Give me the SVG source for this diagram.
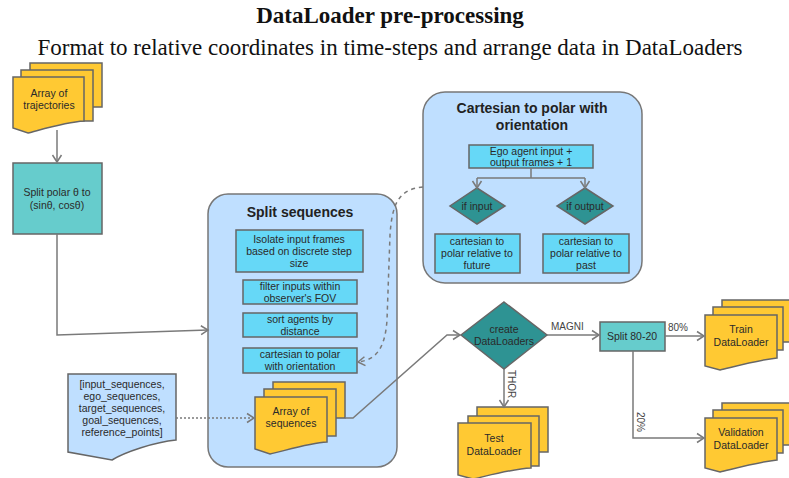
<svg xmlns="http://www.w3.org/2000/svg" width="789" height="478" viewBox="0 0 789 478">
<defs>
<marker id="arr" markerUnits="userSpaceOnUse" markerWidth="12" markerHeight="12" viewBox="0 0 12 12" refX="10" refY="6" orient="auto">
<path d="M3,1.5 L10,6 L3,10.5" fill="none" stroke="#7a7a7a" stroke-width="1.5"/>
</marker>
</defs>
<style>
.t{font-family:"Liberation Sans",Arial,sans-serif;font-size:10.5px;fill:#2a2a2a;text-anchor:middle}
.lbl{font-family:"Liberation Sans",Arial,sans-serif;font-size:10px;fill:#444}
.h{font-family:"Liberation Sans",Arial,sans-serif;font-size:14px;font-weight:bold;fill:#222;text-anchor:middle}
.doc{fill:#ffc933;stroke:#666;stroke-width:1.5}
.teal{fill:#66cccc;stroke:#666;stroke-width:1.5}
.cyan{fill:#66d8f7;stroke:#666;stroke-width:1.5}
.cont{fill:#bfdfff;stroke:#777;stroke-width:1.5}
.dia{fill:#2e9393;stroke:#666;stroke-width:1.5}
.c{fill:none;stroke:#7a7a7a;stroke-width:1.5}
</style>
<rect width="789" height="478" fill="#fff"/>
<text x="390" y="23" font-family="Liberation Serif,serif" font-size="23" font-weight="bold" text-anchor="middle" fill="#111">DataLoader pre-processing</text>
<text x="390" y="55" font-family="Liberation Serif,serif" font-size="23" text-anchor="middle" fill="#111">Format to relative coordinates in time-steps and arrange data in DataLoaders</text>

<g id="array-of-trajectories">
<rect class="doc" x="30" y="63" width="72" height="44"/>
<rect class="doc" x="21" y="70" width="72" height="51"/>
<path class="doc" d="M13,77 H84 V121 C66,122 40,130 28,133 L13,128 Z"/>
<text class="t" x="49" y="97">Array of</text>
<text class="t" x="49" y="109">trajectories</text>
</g>

<g id="split-polar">
<rect class="teal" x="13" y="163" width="89" height="71"/>
<text class="t" x="57" y="196">Split polar θ to</text>
<text class="t" x="57" y="209">(sinθ, cosθ)</text>
</g>

<g id="split-sequences">
<rect class="cont" x="208" y="194" width="189" height="273" rx="20"/>
<text class="h" x="300" y="217">Split sequences</text>
</g>
<g id="isolate">
<rect class="cyan" x="236" y="230" width="127" height="42"/>
<text class="t" x="299" y="243">Isolate input frames</text>
<text class="t" x="299" y="255">based on discrete step</text>
<text class="t" x="299" y="267">size</text>
</g>
<g id="filter">
<rect class="cyan" x="243" y="280" width="114" height="24"/>
<text class="t" x="300" y="290">filter inputs within</text>
<text class="t" x="300" y="302">observer's FOV</text>
</g>
<g id="sort">
<rect class="cyan" x="243" y="313" width="114" height="24"/>
<text class="t" x="300" y="323">sort agents by</text>
<text class="t" x="300" y="335">distance</text>
</g>
<g id="cart-polar">
<rect class="cyan" x="243" y="348" width="114" height="25"/>
<text class="t" x="300" y="358">cartesian to polar</text>
<text class="t" x="300" y="370">with orientation</text>
</g>
<g id="array-of-sequences">
<rect class="doc" x="273" y="382" width="72" height="36"/>
<rect class="doc" x="264" y="389" width="72" height="47"/>
<path class="doc" d="M255,397 H327 V442 C309,443 284,451 270,454 L255,449 Z"/>
<text class="t" x="291" y="415">Array of</text>
<text class="t" x="291" y="427">sequences</text>
</g>

<g id="cartesian-container">
<rect class="cont" x="423" y="92" width="219" height="191" rx="22"/>
<text class="h" x="532" y="113">Cartesian to polar with</text>
<text class="h" x="532" y="130">orientation</text>
</g>
<g id="ego">
<rect class="cyan" x="469" y="145" width="124" height="23"/>
<text class="t" x="531" y="155">Ego agent input +</text>
<text class="t" x="531" y="166">output frames + 1</text>
</g>
<g id="if-input">
<path class="dia" d="M477,188 L505,206 L477,224 L450,206 Z"/>
<text class="t" x="477" y="210">if input</text>
</g>
<g id="if-output">
<path class="dia" d="M585,188 L613,206 L585,224 L557,206 Z"/>
<text class="t" x="585" y="210">if output</text>
</g>
<g id="rel-future">
<rect class="cyan" x="435" y="234" width="85" height="39"/>
<text class="t" x="477" y="245">cartesian to</text>
<text class="t" x="477" y="257">polar relative to</text>
<text class="t" x="477" y="269">future</text>
</g>
<g id="rel-past">
<rect class="cyan" x="543" y="234" width="86" height="39"/>
<text class="t" x="586" y="245">cartesian to</text>
<text class="t" x="586" y="257">polar relative to</text>
<text class="t" x="586" y="269">past</text>
</g>

<g id="input-list">
<path class="cont" style="stroke:#666" d="M68,374 H176 V440 C155,442 125,452 112,460 L68,452 Z"/>
<text class="t" x="122" y="388">[input_sequences,</text>
<text class="t" x="122" y="400">ego_sequences,</text>
<text class="t" x="122" y="412">target_sequences,</text>
<text class="t" x="122" y="424">goal_sequences,</text>
<text class="t" x="122" y="436">reference_points]</text>
</g>

<g id="create-dataloaders">
<path class="dia" d="M504,302 L547,335 L504,369 L461,335 Z"/>
<text class="t" x="504" y="333">create</text>
<text class="t" x="504" y="345">DataLoaders</text>
</g>

<g id="split-80-20">
<rect class="teal" x="600" y="322" width="65" height="29"/>
<text class="t" x="632" y="340">Split 80-20</text>
</g>

<g id="test-dataloader">
<rect class="doc" x="477" y="407" width="71" height="45"/>
<rect class="doc" x="468" y="416" width="71" height="50"/>
<path class="doc" d="M458,423 H531 V468 C512,469 487,476 473,479 L458,475 Z"/>
<text class="t" x="494" y="442">Test</text>
<text class="t" x="494" y="455">DataLoader</text>
</g>

<g id="train-dataloader">
<rect class="doc" x="722" y="300" width="72" height="42"/>
<rect class="doc" x="713" y="307" width="70" height="43"/>
<path class="doc" d="M705,315 H777 V358 C758,360 733,367 720,370 L705,366 Z"/>
<text class="t" x="741" y="333">Train</text>
<text class="t" x="741" y="346">DataLoader</text>
</g>

<g id="validation-dataloader">
<rect class="doc" x="722" y="403" width="72" height="42"/>
<rect class="doc" x="713" y="410" width="70" height="43"/>
<path class="doc" d="M705,418 H777 V460 C758,462 733,469 720,472 L705,468 Z"/>
<text class="t" x="741" y="436">Validation</text>
<text class="t" x="741" y="449">DataLoader</text>
</g>

<g id="connectors">
<path class="c" d="M57,130 V162" marker-end="url(#arr)"/>
<path class="c" d="M57,234 V335 L208,330" marker-end="url(#arr)"/>
<path class="c" stroke-dasharray="4 4" d="M423,187 C398,189 392,205 390,235 L387,320 C385,350 375,360 358,362" marker-end="url(#arr)"/>
<path class="c" stroke-dasharray="2 2" d="M176,418 H254" marker-end="url(#arr)"/>
<path class="c" d="M345,418 H353 L447,335 H460" marker-end="url(#arr)"/>
<path class="c" d="M547,335 H599" marker-end="url(#arr)"/>
<text class="lbl" x="551" y="330">MAGNI</text>
<path class="c" d="M504,369 V407" marker-end="url(#arr)"/>
<text class="lbl" transform="translate(508,370) rotate(90)">THOR</text>
<path class="c" d="M665,336 H704" marker-end="url(#arr)"/>
<text class="lbl" x="668" y="331">80%</text>
<path class="c" d="M633,351 V438 H704" marker-end="url(#arr)"/>
<text class="lbl" transform="translate(637,412) rotate(90)">20%</text>
<path class="c" d="M531,168 V178 M477,178 H585"/>
<path class="c" d="M477,178 V188" marker-end="url(#arr)"/>
<path class="c" d="M585,178 V188" marker-end="url(#arr)"/>
</g>
</svg>
